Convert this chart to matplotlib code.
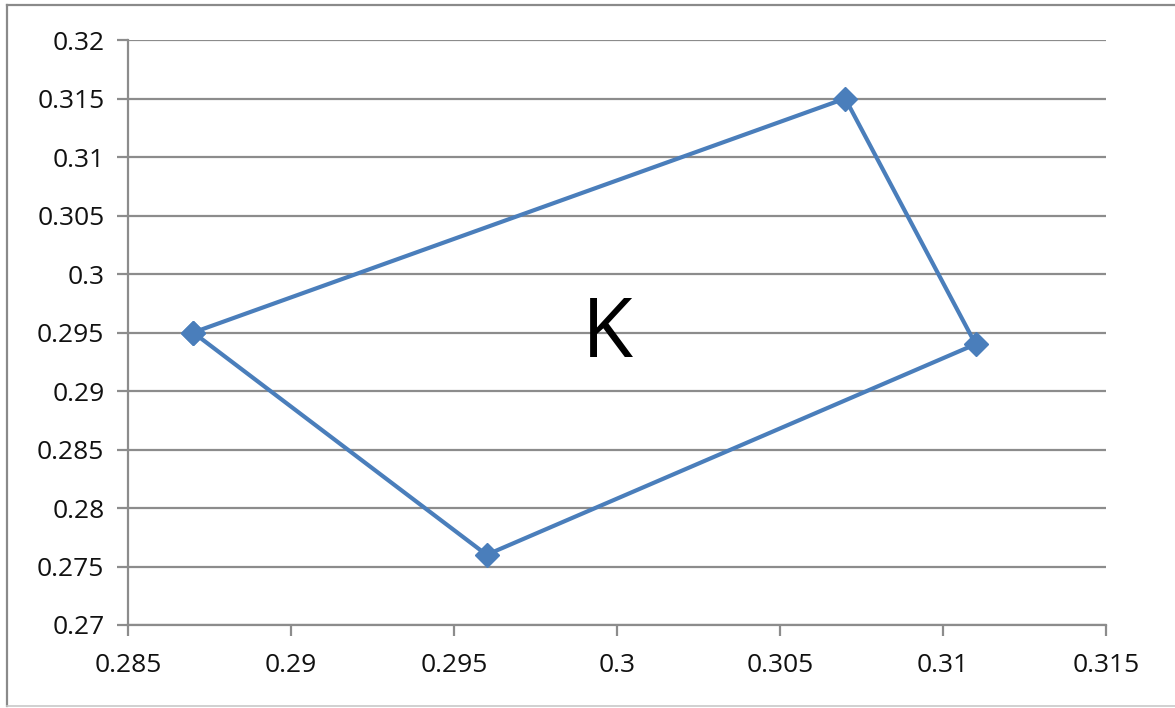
import matplotlib
matplotlib.use("Agg")
import matplotlib.pyplot as plt
from matplotlib.lines import Line2D

x_vals = [0.287, 0.307, 0.311, 0.296, 0.287]
y_vals = [0.295, 0.315, 0.294, 0.276, 0.295]
x_ticks = [0.285, 0.29, 0.295, 0.3, 0.305, 0.31, 0.315]
x_tick_labels = ["0.285", "0.29", "0.295", "0.3", "0.305", "0.31", "0.315"]
y_ticks = [0.27, 0.275, 0.28, 0.285, 0.29, 0.295, 0.3, 0.305, 0.31, 0.315, 0.32]
y_tick_labels = ["0.27", "0.275", "0.28", "0.285", "0.29", "0.295", "0.3", "0.305", "0.31", "0.315", "0.32"]
label_text = "K"

plt.rcParams['font.family'] = ['Open Sans', 'DejaVu Sans']
grid_col = "#8c8c8c"
line_col = "#4A7EBB"

fig = plt.figure(figsize=(11.75, 7.08), dpi=100)
ax = fig.add_axes([128/1175, 1-625/708, (1106-128)/1175, (625-40)/708])

ax.plot(x_vals, y_vals, color=line_col, lw=3, marker="D", markersize=12.5,
        markerfacecolor=line_col, markeredgecolor=line_col, zorder=3,
        solid_joinstyle="miter")
ax.text(0.2997, 0.2947, label_text, fontsize=60, ha="center", va="center",
        color="black", family=["Open Sans", "DejaVu Sans"])

ax.set_xlim(0.285, 0.315)
ax.set_ylim(0.27, 0.32)
ax.set_xticks(x_ticks)
ax.set_xticklabels(x_tick_labels)
ax.set_yticks(y_ticks)
ax.set_yticklabels(y_tick_labels)

ax.yaxis.grid(True, color=grid_col, lw=1.6)
ax.set_axisbelow(True)
for s in ["top", "right"]:
    ax.spines[s].set_visible(False)
for s in ["left", "bottom"]:
    ax.spines[s].set_color(grid_col)
    ax.spines[s].set_linewidth(1.6)

ax.tick_params(axis="both", colors=grid_col, width=1.6, length=8, labelsize=19,
               labelcolor="#111111")
ax.tick_params(axis="x", pad=12)
ax.tick_params(axis="y", pad=9)

# outer chart border
fig.add_artist(Line2D([7/1175, 1], [1-5/708, 1-5/708], color="#8a8a8a", lw=1.6, transform=fig.transFigure))
fig.add_artist(Line2D([7/1175, 7/1175], [1-5/708, 1-706/708], color="#8a8a8a", lw=1.6, transform=fig.transFigure))
fig.add_artist(Line2D([7/1175, 1], [1-706/708, 1-706/708], color="#c8c8c8", lw=1.2, transform=fig.transFigure))

fig.savefig("out.png", dpi=100)
